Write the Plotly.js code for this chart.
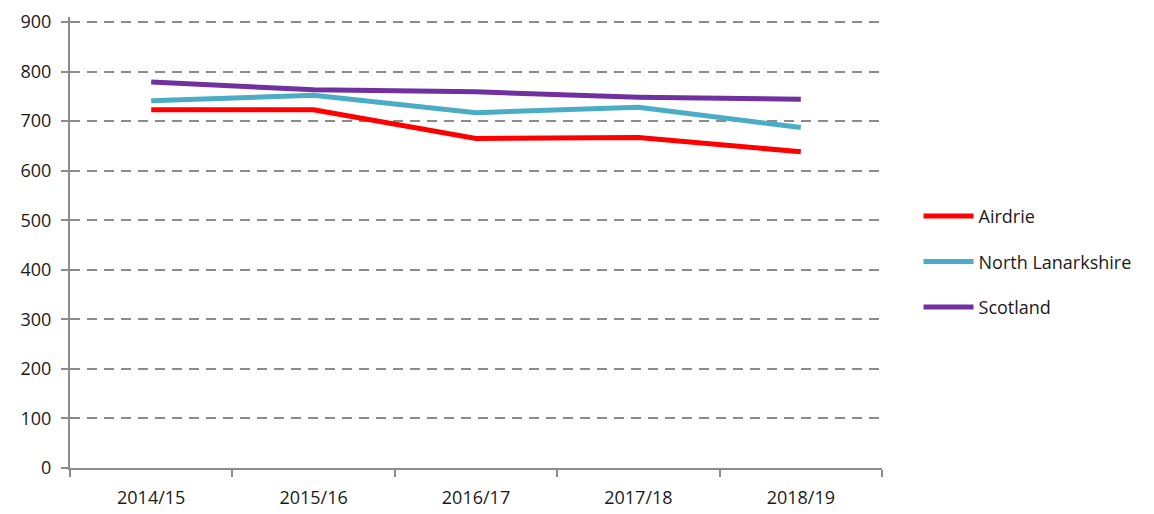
<!DOCTYPE html>
<html>
<head>
<meta charset="utf-8">
<script src="https://cdn.plot.ly/plotly-3.0.1.min.js"></script>
<style>html,body{margin:0;padding:0;background:#fff;}#chart{width:1154px;height:514px;}</style>
</head>
<body>
<div id="chart"></div>
<script>
const categories = ["2014/15", "2015/16", "2016/17", "2017/18", "2018/19"];
const airdrie = [723, 723, 665, 667, 638];
const northLanarkshire = [741, 752, 717, 728, 687];
const scotland = [779, 763, 759, 748, 744];
const yTicks = [0, 100, 200, 300, 400, 500, 600, 700, 800, 900];

const font = "Open Sans, Noto Sans, sans-serif";
function tr(name, y, color, grp) {
  return {x: categories, y: y, name: name, type: "scatter", mode: "lines",
          legendgroup: grp, line: {color: color, width: 5}};
}
const data = [
  tr("Airdrie", airdrie, "#FF0000", "a"),
  tr("North Lanarkshire", northLanarkshire, "#4BACC6", "b"),
  tr("Scotland", scotland, "#7030A0", "c")
];
const layout = {
  width: 1154, height: 514,
  margin: {l: 70, r: 272, t: 17, b: 46},
  paper_bgcolor: "#fff", plot_bgcolor: "#fff",
  font: {family: font, size: 18, color: "#1a1a1a"},
  xaxis: {type: "category", range: [-0.5, 4.5], showline: true, linecolor: "#8c8c8c", linewidth: 2,
          ticks: "outside", tickson: "boundaries", ticklen: 7, tickcolor: "#8c8c8c", tickwidth: 2,
          ticklabelstandoff: 12,
          showgrid: false, zeroline: false, tickfont: {family: font, size: 18, color: "#1a1a1a"}},
  yaxis: {range: [0, 910], tickvals: yTicks, ticktext: yTicks.map(String), showline: true,
          linecolor: "#8c8c8c", linewidth: 2, ticks: "outside", ticklen: 7, tickcolor: "#8c8c8c", tickwidth: 2,
          ticklabelstandoff: 6,
          showgrid: true, gridcolor: "#8c8c8c", gridwidth: 2, griddash: "10px,7px", zeroline: false,
          tickfont: {family: font, size: 18, color: "#1a1a1a"}},
  legend: {x: 1.045, xanchor: "left", y: 0.457, yanchor: "middle", itemwidth: 50,
           tracegroupgap: 19, font: {family: font, size: 18, color: "#1a1a1a"}, bgcolor: "rgba(0,0,0,0)"},
  showlegend: true
};
Plotly.newPlot("chart", data, layout, {displayModeBar: false, staticPlot: true});
</script>
</body>
</html>
